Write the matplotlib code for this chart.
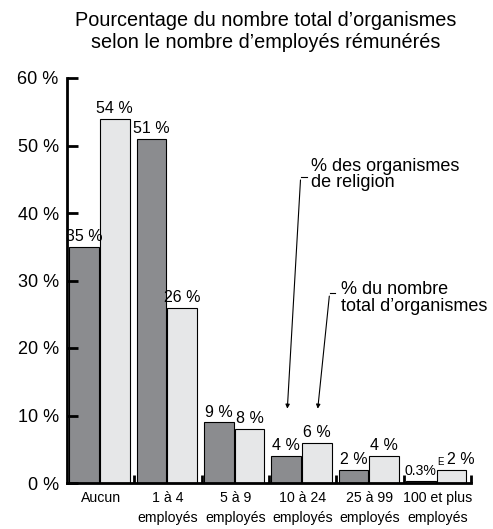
import matplotlib
matplotlib.use("Agg")
import matplotlib.pyplot as plt
import numpy as np

plt.rcParams['font.family'] = ['Liberation Sans', 'DejaVu Sans']

# Data -----------------------------------------------------------------------
categories = ["Aucun", "1 à 4\nemployés", "5 à 9\nemployés", "10 à 24\nemployés",
              "25 à 99\nemployés", "100 et plus\nemployés"]
religion   = [35, 51, 9, 4, 2, 0.3]
total      = [54, 26, 8, 6, 4, 2]
rel_labels = ["35 %", "51 %", "9 %", "4 %", "2 %", "0.3%"]
tot_labels = ["54 %", "26 %", "8 %", "6 %", "4 %", "2 %"]
yticks     = [0, 10, 20, 30, 40, 50, 60]

dark  = "#8b8c8f"
light = "#e6e7e8"

fig = plt.figure(figsize=(4.93, 5.29), dpi=100)
ax = fig.add_axes([67/493, 1-483/529, (471-67)/493, (483-78)/529])

x = np.arange(len(categories))
w = 0.44
ax.bar(x + 0.255, religion, w, color=dark, edgecolor="black", linewidth=0.8)
ax.bar(x + 0.71, total, w, color=light, edgecolor="black", linewidth=0.8)

rel_txt = []
for i in range(len(categories)):
    fs = 10.2 if i == 5 else 11.5
    t = ax.text(x[i] + 0.255, religion[i] + 0.4, rel_labels[i], ha="center", va="bottom", fontsize=fs)
    rel_txt.append(t)
    dx = 6.5 if i == 5 else 0
    ax.annotate(tot_labels[i], xy=(x[i] + 0.71, total[i] + 0.4), xytext=(dx, 0),
                textcoords="offset points", ha="center", va="bottom", fontsize=11.5)
# superscript E on 0.3%
ax.annotate("E", xy=(1.0, 0.8), xycoords=rel_txt[5], xytext=(0.5, 0),
            textcoords="offset points", ha="left", va="bottom", fontsize=7)

ax.set_xlim(0, 6)
ax.set_ylim(0, 60)
ax.set_yticks(yticks)
ax.set_yticklabels([f"{v} %" for v in yticks], fontsize=13)
ax.tick_params(axis="y", direction="in", length=8, width=2, pad=6)

ax.set_xticks(x + 0.5)
ax.set_xticklabels(categories, fontsize=10.2, linespacing=1.5, va="top")
ax.tick_params(axis="x", length=0, pad=6)
ax.set_xticks(np.arange(1, 7), minor=True)
ax.tick_params(axis="x", which="minor", direction="in", length=6, width=2)

for s in ["top", "right"]:
    ax.spines[s].set_visible(False)
for s in ["left", "bottom"]:
    ax.spines[s].set_linewidth(2)

# annotations with arrows
ax.annotate("", xy=(3.27, 10.6), xytext=(3.47, 45.3),
            arrowprops=dict(arrowstyle="-|>", lw=0.8, color="black", mutation_scale=6))
ax.plot([3.47, 3.56], [45.3, 45.3], color="black", lw=0.8)
ax.text(3.63, 48.2, "% des organismes\nde religion", ha="left", va="top", fontsize=13,
        linespacing=0.95)

ax.annotate("", xy=(3.72, 10.6), xytext=(3.90, 28.1),
            arrowprops=dict(arrowstyle="-|>", lw=0.8, color="black", mutation_scale=6))
ax.plot([3.90, 3.98], [28.1, 28.1], color="black", lw=0.8)
ax.text(4.07, 29.9, "% du nombre\ntotal d\u2019organismes", ha="left", va="top", fontsize=13,
        linespacing=0.95)

fig.text(266/493, 1-11/529, "Pourcentage du nombre total d\u2019organismes\nselon le nombre d\u2019employés rémunérés",
         ha="center", va="top", fontsize=14.3, linespacing=1.2)

fig.savefig("out.png", dpi=100)
